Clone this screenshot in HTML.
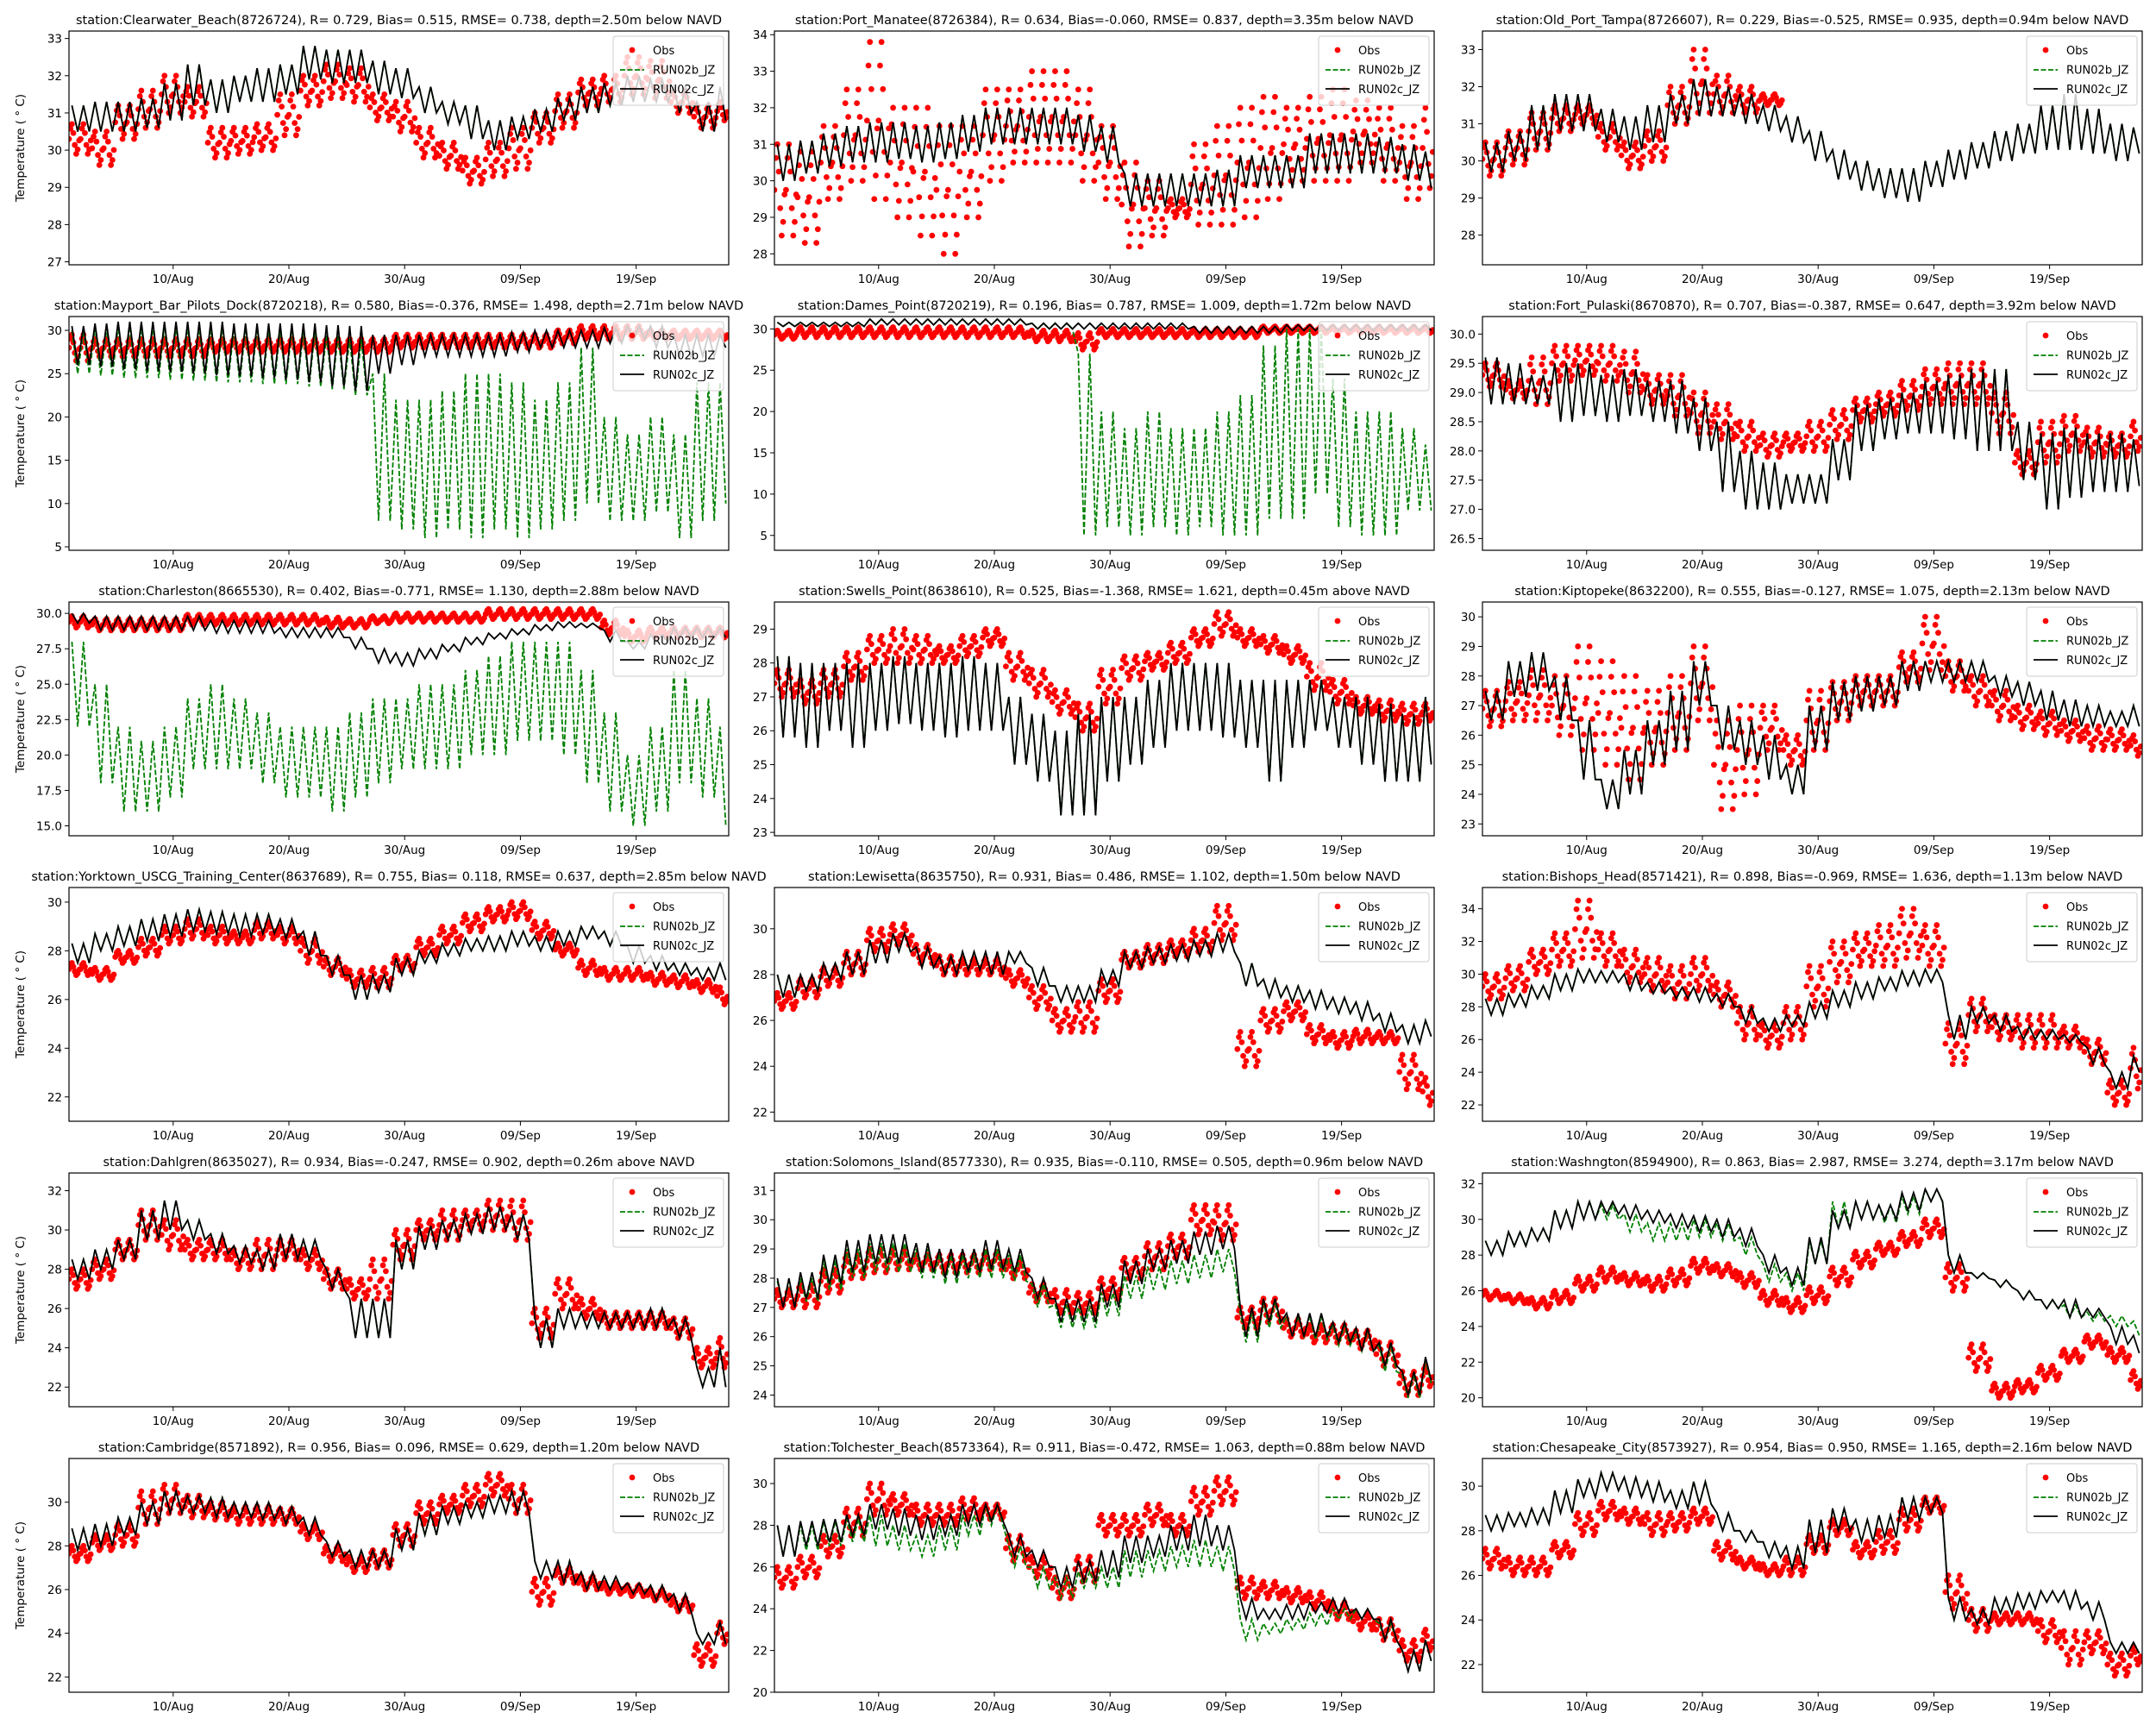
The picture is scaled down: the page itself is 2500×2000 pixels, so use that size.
<!DOCTYPE html>
<html><head><meta charset="utf-8"><style>
html,body{margin:0;padding:0;background:#fff;}
svg{display:block;font-family:"DejaVu Sans","Liberation Sans",sans-serif;}
</style></head>
<body>
<svg id="fig" width="2500" height="2000" viewBox="0 0 2500 2000" xmlns="http://www.w3.org/2000/svg"></svg>
<script>
// ---------- data (daily min / max, one entry per 2 days starting 1 Aug) ----------
const titles = [
"station:Clearwater_Beach(8726724), R= 0.729, Bias= 0.515, RMSE= 0.738, depth=2.50m below NAVD",
"station:Port_Manatee(8726384), R= 0.634, Bias=-0.060, RMSE= 0.837, depth=3.35m below NAVD",
"station:Old_Port_Tampa(8726607), R= 0.229, Bias=-0.525, RMSE= 0.935, depth=0.94m below NAVD",
"station:Mayport_Bar_Pilots_Dock(8720218), R= 0.580, Bias=-0.376, RMSE= 1.498, depth=2.71m below NAVD",
"station:Dames_Point(8720219), R= 0.196, Bias= 0.787, RMSE= 1.009, depth=1.72m below NAVD",
"station:Fort_Pulaski(8670870), R= 0.707, Bias=-0.387, RMSE= 0.647, depth=3.92m below NAVD",
"station:Charleston(8665530), R= 0.402, Bias=-0.771, RMSE= 1.130, depth=2.88m below NAVD",
"station:Swells_Point(8638610), R= 0.525, Bias=-1.368, RMSE= 1.621, depth=0.45m above NAVD",
"station:Kiptopeke(8632200), R= 0.555, Bias=-0.127, RMSE= 1.075, depth=2.13m below NAVD",
"station:Yorktown_USCG_Training_Center(8637689), R= 0.755, Bias= 0.118, RMSE= 0.637, depth=2.85m below NAVD",
"station:Lewisetta(8635750), R= 0.931, Bias= 0.486, RMSE= 1.102, depth=1.50m below NAVD",
"station:Bishops_Head(8571421), R= 0.898, Bias=-0.969, RMSE= 1.636, depth=1.13m below NAVD",
"station:Dahlgren(8635027), R= 0.934, Bias=-0.247, RMSE= 0.902, depth=0.26m above NAVD",
"station:Solomons_Island(8577330), R= 0.935, Bias=-0.110, RMSE= 0.505, depth=0.96m below NAVD",
"station:Washngton(8594900), R= 0.863, Bias= 2.987, RMSE= 3.274, depth=3.17m below NAVD",
"station:Cambridge(8571892), R= 0.956, Bias= 0.096, RMSE= 0.629, depth=1.20m below NAVD",
"station:Tolchester_Beach(8573364), R= 0.911, Bias=-0.472, RMSE= 1.063, depth=0.88m below NAVD",
"station:Chesapeake_City(8573927), R= 0.954, Bias= 0.950, RMSE= 1.165, depth=2.16m below NAVD"];
const yMin = [26.92,27.7,27.2,4.6,3.2,26.3,14.3,22.9,22.6,21.0,21.6,21.0,21.0,23.6,19.5,21.3,20.0,20.76];
const yMax = [33.2,34.1,33.5,31.6,31.5,30.3,30.8,29.8,30.5,30.6,31.8,35.3,32.9,31.6,32.6,32.0,31.2,31.24];
const yTicks = [
["27","28","29","30","31","32","33"],["28","29","30","31","32","33","34"],["28","29","30","31","32","33"],
["5","10","15","20","25","30"],["5","10","15","20","25","30"],["26.5","27.0","27.5","28.0","28.5","29.0","29.5","30.0"],
["15.0","17.5","20.0","22.5","25.0","27.5","30.0"],["23","24","25","26","27","28","29"],["23","24","25","26","27","28","29","30"],
["22","24","26","28","30"],["22","24","26","28","30"],["22","24","26","28","30","32","34"],
["22","24","26","28","30","32"],["24","25","26","27","28","29","30","31"],["20","22","24","26","28","30","32"],
["22","24","26","28","30"],["20","22","24","26","28","30"],["22","24","26","28","30"]];
const xTickDays = [9,19,29,39,49];
const xTickLabels = ["10/Aug","20/Aug","30/Aug","09/Sep","19/Sep"];

const obsLo_1=[29.9,29.6,30.3,30.6,31.0,30.9,29.8,29.9,30.0,30.4,31.2,31.4,31.3,30.8,30.5,29.8,29.5,29.1,29.3,29.5,30.2,30.6,31.2,31.3,31.5,31.4,31.0,30.6,30.8];
const obsHi_1=[30.7,30.5,31.2,31.6,32.0,31.7,30.6,30.6,30.7,31.5,32.0,32.3,32.2,31.5,31.3,30.6,30.2,29.8,30.2,30.6,31.0,31.5,31.9,32.0,32.5,32.4,31.6,31.2,31.3];
const runcLo_1=[30.5,30.5,30.5,30.6,30.8,31.2,31.0,31.3,31.3,31.5,31.9,31.8,31.8,31.5,31.4,31.0,30.7,30.3,30.0,30.3,30.5,30.8,31.0,31.2,31.3,31.3,31.0,30.5,30.8];
const runcHi_1=[31.2,31.3,31.3,31.4,31.8,32.3,31.9,32.0,32.2,32.3,32.8,32.7,32.7,32.4,32.2,31.7,31.3,31.2,30.8,30.9,31.1,31.4,31.7,31.8,32.0,31.9,31.7,31.3,31.7];

const obsLo_2=[28.5,28.3,29.5,30.0,29.5,29.0,28.5,28.0,29.0,30.0,30.5,30.5,30.5,30.0,29.5,28.2,28.5,29.0,28.8,28.8,29.0,29.5,30.0,30.0,30.0,30.5,30.0,29.5,29.8];
const obsHi_2=[31.0,30.8,31.5,32.5,33.8,32.0,32.0,31.5,31.5,32.5,32.5,33.0,33.0,32.5,31.5,30.5,30.0,29.5,31.0,31.5,32.0,32.3,32.0,32.3,32.5,32.2,32.0,31.5,32.0];
const runcLo_2=[30.0,30.2,30.4,30.5,30.5,30.6,30.5,30.6,30.8,31.0,31.0,31.0,31.0,30.8,30.5,29.3,29.3,29.3,29.3,29.3,29.8,29.8,29.8,30.2,30.2,30.2,30.2,30.0,29.8];
const runcHi_2=[31.0,31.1,31.3,31.5,31.6,31.6,31.5,31.6,31.8,32.0,32.0,32.0,32.0,31.8,31.5,30.2,30.2,30.2,30.2,30.3,30.7,30.7,30.7,31.3,31.3,31.3,31.2,31.0,30.8];

const obsLo_3=[29.6,29.9,30.3,30.8,31.0,30.3,29.8,30.0,31.0,31.3,31.3,31.3,31.5,null,null,null,null,null,null,null,null,null,null,null,null,null,null,null,null];
const obsHi_3=[30.5,30.8,31.3,31.5,31.5,31.0,30.5,30.8,32.0,33.0,32.3,32.0,31.8,null,null,null,null,null,null,null,null,null,null,null,null,null,null,null,null];
const runcLo_3=[29.7,30.0,30.3,30.8,30.8,30.5,30.3,30.5,31.0,31.2,31.2,31.0,30.8,30.5,30.0,29.5,29.2,29.0,28.9,29.3,29.5,29.8,30.0,30.2,30.3,30.3,30.2,30.0,30.2];
const runcHi_3=[30.5,30.8,31.5,31.8,31.8,31.4,31.2,31.5,31.8,32.2,32.0,31.8,31.5,31.2,30.8,30.3,30.0,29.8,29.8,30.0,30.3,30.5,30.8,31.0,31.5,31.8,31.4,31.0,30.9];

const obsLo_4=[26.5,27,27,27,27,27,27.5,27.5,27.5,27.5,27.5,27.5,27.5,27.5,28,28,28,28,28,28,28,28.5,29,29,29,29,29,29,29];
const obsHi_4=[29.5,29,29,29,29,29,29,29,29,29,29,29,29,29,29.5,29.5,29.5,29.5,29.5,29.5,29.5,30,30.5,30.5,30.5,30,30,30,30];
const runbLo_4=[25,24.8,24.5,24.5,24.3,24.2,24,24,23.8,23.8,23.5,23.2,22.5,8,7,6,7,6,7,6,7,8,10,8,8,9,6,8,10];
const runbHi_4=[30,30.3,30.5,30.5,30.5,30.5,30.5,30.3,30.3,30.2,30,29.5,29,25,22,22,23,25,25,24,22,24,28,20,18,20,18,24,24];
const runcLo_4=[26,25.8,25.5,25.3,25.2,25,24.8,24.7,24.5,24.3,24,23.5,23,25,26,27,27,27,27,27.5,28,28,28,28.5,29,28,27,27,28];
const runcHi_4=[30.5,30.8,31,31,31,31,31,30.8,30.8,30.8,30.8,30.6,30.5,29.5,29.5,29.5,29.5,29.5,29.5,29.8,30,30,30,30.3,30.5,30.5,29.5,29.5,29.5];

const obsLo_5=[28.8,29,29,29,29,29,29,29,29,29,29,28.5,28.5,27.5,29,29,29,29,29,29,29,29.5,29.5,29.5,29.5,29.5,29.5,29.5,29.5];
const obsHi_5=[29.8,30.2,30.2,30.2,30.2,30.2,30.2,30.2,30.2,30.2,30.2,29.8,29.8,29.5,30,30,30,30,30,30,30,30.3,30.3,30.3,30.3,30.3,30.3,30.3,30.3];
const runbLo_5=[30.3,30.3,30.3,30.3,30.5,30.5,30.5,30.5,30.5,30.5,30.5,30,30,5,6,5,6,5,6,5,5,7,7,10,6,5,5,8,8];
const runbHi_5=[30.8,30.8,30.8,30.8,31.2,31.2,31.2,31.2,31.2,31.2,31.2,30.7,30.7,27,20,18,20,18,18,20,22,28,30,30,24,20,20,18,16];
const runcLo_5=[30.3,30.3,30.3,30.3,30.5,30.5,30.5,30.5,30.5,30.5,30.5,30,30,30,30,30,30,30,29.5,29.5,29.5,29.5,29.8,29.8,29.8,29.8,29.8,29.8,29.8];
const runcHi_5=[30.8,30.8,30.8,30.8,31.2,31.2,31.2,31.2,31.2,31.2,31.2,30.7,30.7,30.7,30.7,30.7,30.7,30.7,30.3,30.3,30.3,30.3,30.5,30.5,30.5,30.5,30.5,30.5,30.5];

const obsLo_6=[29.1,28.9,28.8,29.2,29.3,29.2,29.0,28.8,28.6,28.3,28.2,28.0,27.9,28.0,28.0,28.2,28.5,28.6,28.7,28.8,28.8,28.8,28.3,27.6,27.8,28.0,27.9,27.9,28.0];
const obsHi_6=[29.5,29.2,29.6,29.8,29.8,29.8,29.7,29.3,29.3,29.0,28.8,28.5,28.3,28.3,28.5,28.7,28.9,29.0,29.2,29.4,29.5,29.5,29.0,28.0,28.5,28.6,28.4,28.3,28.5];
const runcLo_6=[28.8,28.8,28.8,28.5,28.6,28.5,28.6,28.5,28.3,28.0,27.3,27.0,27.0,27.1,27.1,27.5,28.0,28.2,28.3,28.3,28.2,28.0,28.0,27.5,27.0,27.2,27.3,27.3,27.4];
const runcHi_6=[29.6,29.5,29.3,29.5,29.5,29.3,29.4,29.2,29.2,28.9,28.5,28.0,27.8,27.6,27.6,28.2,28.8,28.9,29.0,29.2,29.3,29.4,29.4,28.5,28.3,28.4,28.3,28.3,28.2];

const obsLo_7=[29.0,28.8,28.8,28.8,28.8,29.2,29.2,29.2,29.2,29.2,29.2,29.0,29.0,29.3,29.4,29.4,29.4,29.4,29.6,29.6,29.6,29.6,29.6,28.5,28.0,28.3,28.3,28.3,28.3];
const obsHi_7=[29.8,29.6,29.6,29.6,29.6,29.9,29.9,29.9,29.9,29.9,29.9,29.7,29.6,29.8,30.0,30.0,30.0,30.0,30.3,30.3,30.3,30.3,30.3,29.5,28.8,29.0,29.0,29.0,29.0];
const runbLo_7=[22,18,16,16,17,19,19,19,18,17,17,16,17,18,19,19,19,20,20,21,21,20,18,16,15,16,18,17,15];
const runbHi_7=[28,25,22,21,22,24,25,24,23,22,22,22,23,24,24,25,25,26,27,28,28,28,26,23,20,22,26,24,22];
const runcLo_7=[29.3,28.8,28.8,28.8,28.8,28.8,28.6,28.6,28.6,28.3,28.3,28.3,27.5,26.5,26.3,26.8,27.3,27.8,28.2,28.5,28.8,29.0,29.0,28.0,27.5,28.0,28.3,28.3,28.3];
const runcHi_7=[30.0,29.8,29.8,29.8,29.8,29.8,29.5,29.5,29.5,29.0,29.0,29.0,28.3,27.5,27.2,27.5,27.8,28.3,28.6,28.9,29.2,29.4,29.3,28.8,28.0,28.5,29.0,29.0,29.0];

const obsLo_8=[27.0,26.8,27.0,27.5,28.0,28.0,28.0,28.0,28.2,28.5,27.5,27.0,26.5,26.0,26.8,27.5,27.8,28.0,28.5,28.8,28.5,28.3,28.0,27.2,26.8,26.5,26.3,26.2,26.3];
const obsHi_8=[27.8,27.5,27.8,28.3,28.8,29.0,28.8,28.5,28.8,29.0,28.3,27.8,27.2,26.8,27.8,28.2,28.3,28.6,29.0,29.5,29.0,28.8,28.5,28.0,27.5,27.0,26.9,26.8,26.8];
const runcLo_8=[25.8,25.5,26.0,25.5,26.0,26.2,26.0,25.8,26.0,26.0,25.0,24.5,23.5,23.5,24.5,25.0,25.5,26.0,26.0,25.8,25.5,24.5,25.5,26.0,25.5,25.0,24.5,24.5,25.0];
const runcHi_8=[28.2,28.0,28.0,28.0,28.0,28.2,28.0,28.0,28.2,28.0,27.0,26.5,26.0,26.5,27.0,27.0,27.5,28.0,28.0,28.0,27.5,27.5,27.5,27.5,27.0,27.0,26.8,26.5,27.0];

const obsLo_9=[26.3,26.5,26.5,26.0,25.5,25.0,24.5,25.0,25.5,26.5,23.5,24.0,25.5,25.0,25.5,26.5,27.0,27.0,27.8,28.2,27.5,27.0,26.5,26.2,26.0,25.8,25.5,25.5,25.3];
const obsHi_9=[27.5,27.8,28.2,28.0,29.0,28.5,28.0,27.5,28.0,29.0,26.5,27.0,27.0,26.0,27.5,27.8,28.0,28.0,28.8,30.0,28.5,28.0,27.5,27.0,26.8,26.5,26.3,26.2,26.0];
const runcLo_9=[26.5,27.3,27.5,26.5,24.5,23.5,24.0,25.0,25.5,27.0,25.5,25.0,24.5,24.0,25.5,26.5,26.8,27.0,27.5,27.8,27.8,27.8,27.3,27.0,26.5,26.3,26.3,26.3,26.3];
const runcHi_9=[27.5,28.5,28.8,28.0,26.5,24.5,25.5,26.5,27.5,28.5,27.0,26.5,26.0,25.0,27.0,27.8,28.0,28.0,28.5,28.5,28.5,28.5,28.0,27.8,27.5,27.2,27.0,26.8,27.0];

const obsLo_10=[27.0,26.8,27.5,27.8,28.3,28.5,28.3,28.3,28.5,28.3,27.5,27.0,26.5,26.5,27.2,27.8,28.3,28.8,29.2,29.3,28.5,27.8,27.0,26.8,26.8,26.6,26.5,26.3,25.8];
const obsHi_10=[27.5,27.3,28.0,28.5,29.0,29.3,29.0,28.8,29.2,29.0,28.5,27.7,27.2,27.3,27.8,28.5,29.0,29.5,29.8,30.0,29.2,28.3,27.6,27.3,27.3,27.1,27.0,26.8,26.5];
const runcLo_10=[27.5,28.0,28.2,28.4,28.6,28.8,28.7,28.6,28.7,28.5,27.8,27.0,26.0,26.3,27.0,27.5,27.8,28.0,28.0,28.2,28.0,28.2,28.5,28.2,27.5,27.2,27.0,26.8,26.8];
const runcHi_10=[28.3,28.7,29.0,29.3,29.5,29.7,29.6,29.5,29.5,29.3,28.8,27.8,27.0,27.0,27.7,28.0,28.3,28.5,28.6,28.8,28.6,28.8,29.0,28.8,28.2,27.8,27.5,27.3,27.5];

const obsLo_11=[26.5,27.0,27.5,28.0,29.0,29.3,28.5,28.0,28.0,28.0,27.5,26.5,25.5,25.5,26.8,28.3,28.5,28.8,29.0,29.5,24.0,25.5,26.0,25.0,24.8,25.0,25.0,23.0,22.3];
const obsHi_11=[27.2,27.8,28.3,29.0,30.0,30.2,29.3,28.8,28.7,28.7,28.2,27.5,26.5,26.8,27.8,29.0,29.3,29.5,30.0,31.0,25.5,26.5,26.8,25.8,25.5,25.6,25.5,24.5,23.5];
const runcLo_11=[27.0,27.3,27.8,28.0,28.5,29.0,28.3,28.0,28.2,28.0,28.5,27.5,26.8,26.8,27.5,28.3,28.5,28.6,28.8,29.0,27.5,27.0,26.8,26.5,26.3,26.0,25.5,25.0,25.3];
const runcHi_11=[28.0,28.0,28.5,29.0,29.5,29.8,29.2,28.8,29.0,29.0,29.0,28.3,27.5,27.5,28.2,29.0,29.2,29.3,29.5,29.8,28.5,27.8,27.5,27.3,27.0,26.8,26.3,25.8,26.0];

const obsLo_12=[28.5,29.0,30.0,30.5,31.0,30.5,29.5,29.0,28.5,29.0,28.0,26.0,25.5,26.0,28.0,29.5,30.5,30.5,31.0,30.5,24.5,26.5,26.0,25.5,25.5,25.5,24.5,22.0,23.0];
const obsHi_12=[30.0,30.5,31.5,32.5,34.5,32.5,31.5,31.0,30.5,31.0,29.5,28.0,27.0,28.0,30.5,32.0,32.5,33.0,34.0,33.0,27.0,28.5,27.5,27.5,27.5,26.8,26.0,23.5,25.5];
const runcLo_12=[27.5,28.0,28.5,29.0,29.5,29.5,29.0,28.8,28.5,28.3,28.0,27.0,26.5,26.8,27.3,28.0,28.5,29.0,29.3,29.5,26.0,27.0,26.5,26.0,26.0,25.8,24.5,23.0,24.0];
const runcHi_12=[28.5,28.8,29.3,30.0,30.3,30.2,30.0,29.5,29.2,29.2,28.8,28.0,27.3,27.5,28.3,29.0,29.5,29.8,30.2,30.3,27.5,28.0,27.5,26.8,26.6,26.3,25.5,24.0,25.0];

const obsLo_13=[27.0,27.5,28.5,29.5,29.0,28.5,28.5,28.0,28.0,28.5,28.0,27.0,26.5,26.5,28.5,29.5,29.5,30.0,30.0,29.5,24.5,26.0,25.5,25.0,25.0,25.0,24.5,23.0,23.0];
const obsHi_13=[28.0,28.5,29.5,31.0,30.5,29.5,29.5,29.0,29.5,29.5,29.0,28.0,27.5,28.5,30.0,30.5,31.0,31.0,31.5,31.5,26.0,27.5,26.5,25.8,25.8,25.8,25.5,24.0,24.5];
const runcLo_13=[27.5,28.0,28.5,29.5,30.0,29.5,28.8,28.3,28.0,28.5,28.5,27.0,24.5,24.5,28.0,29.0,29.5,29.8,30.0,29.5,24.0,25.0,25.0,25.0,25.0,25.0,24.5,22.0,22.0];
const runcHi_13=[28.5,29.0,29.5,31.0,31.5,30.5,29.8,29.2,29.0,29.8,29.5,28.0,26.5,26.5,29.5,30.2,30.5,30.8,31.2,30.8,25.5,26.0,25.8,25.8,25.8,26.0,25.5,23.0,24.0];

const obsLo_14=[27.0,27.0,27.5,28.0,28.2,28.3,28.3,28.2,28.2,28.3,28.0,27.2,26.8,26.8,27.3,28.0,28.3,28.7,29.5,29.3,26.3,26.5,26.0,25.8,25.8,25.6,25.0,24.0,24.3];
const obsHi_14=[27.6,27.8,28.3,28.8,29.0,29.0,28.8,28.8,28.8,28.9,28.6,27.8,27.6,27.5,28.0,28.7,29.2,29.5,30.5,30.5,27.0,27.3,26.6,26.4,26.4,26.2,25.8,24.8,25.0];
const runcLo_14=[27.0,27.3,27.8,28.2,28.5,28.5,28.2,28.0,28.2,28.3,28.2,27.3,26.5,26.5,27.0,27.8,28.3,28.5,28.8,29.0,26.0,26.5,26.0,26.0,25.8,25.5,25.0,24.0,24.5];
const runcHi_14=[28.0,28.2,28.8,29.3,29.5,29.5,29.2,29.0,29.0,29.3,29.0,28.0,27.3,27.3,27.8,28.6,29.0,29.3,29.6,29.8,27.0,27.3,26.8,26.8,26.5,26.3,25.8,24.8,25.3];
const runbLo_14=[27.0,27.2,27.6,28.0,28.2,28.2,28.0,27.8,28.0,28.0,27.9,27.0,26.3,26.3,26.7,27.3,27.6,27.8,28.0,28.2,25.8,26.3,26.0,25.9,25.7,25.5,24.8,23.9,24.4];
const runbHi_14=[27.9,28.0,28.6,29.0,29.2,29.2,29.0,28.8,28.8,29.0,28.8,27.8,27.1,27.0,27.5,28.1,28.4,28.6,28.8,29.0,26.8,27.2,26.7,26.7,26.4,26.2,25.7,24.7,25.2];

const obsLo_15=[25.5,25.3,25.0,25.3,26.0,26.5,26.3,26.0,26.3,27.0,26.8,26.2,25.2,24.8,25.3,26.3,27.3,28.0,28.5,29.0,26.0,21.5,20.0,20.3,21.0,22.0,22.8,22.0,20.5];
const obsHi_15=[26.0,25.8,25.6,26.0,26.8,27.3,27.0,26.8,27.2,27.8,27.5,27.0,26.0,25.6,26.2,27.3,28.2,28.7,29.3,30.0,27.5,23.0,20.8,21.0,21.8,22.7,23.5,22.8,21.5];
const runbLo_15=[28.0,28.5,28.8,29.5,30.0,30.0,29.3,28.8,28.8,29.0,28.8,28.0,26.5,26.0,27.5,29.5,30.0,29.8,30.3,31.0,27.0,26.7,26.2,25.5,25.0,24.5,24.3,24.0,23.5];
const runbHi_15=[28.8,29.3,29.5,30.5,31.0,30.8,30.3,29.8,29.8,30.0,29.8,29.0,27.5,27.0,28.8,31.0,31.0,30.8,31.3,31.7,28.0,27.0,26.6,26.0,25.5,25.2,24.8,24.6,24.3];
const runcLo_15=[28.0,28.5,28.8,29.5,30.0,30.3,30.0,29.8,29.5,29.3,29.0,28.5,27.0,26.3,27.5,29.5,30.0,30.0,30.5,31.0,27.0,26.7,26.2,25.5,25.0,24.5,24.5,23.0,22.5];
const runcHi_15=[28.8,29.3,29.5,30.5,31.0,31.0,30.8,30.5,30.3,30.2,30.0,29.5,28.0,27.3,29.0,30.5,31.0,30.8,31.5,31.7,28.0,27.0,26.6,26.0,25.5,25.5,25.0,24.0,23.5];

const obsLo_16=[27.3,27.8,28.0,29.0,29.5,29.3,29.2,29.0,29.0,29.0,28.3,27.3,26.8,27.0,28.0,29.0,29.5,29.8,30.3,29.5,25.3,26.3,26.0,25.8,25.7,25.5,25.0,22.5,23.5];
const obsHi_16=[28.0,28.5,29.0,30.5,30.8,30.3,30.0,29.8,29.8,29.7,29.0,28.0,27.5,27.8,29.0,30.0,30.3,30.8,31.3,30.8,26.5,27.0,26.6,26.3,26.2,26.0,25.6,23.5,24.5];
const runcLo_16=[27.8,28.0,28.5,29.0,29.5,29.5,29.3,29.3,29.2,29.0,28.5,27.5,27.0,27.0,27.8,28.5,29.0,29.3,29.5,29.5,26.5,26.3,26.0,26.0,25.8,25.5,25.0,23.5,23.5];
const runcHi_16=[28.8,29.0,29.3,30.0,30.5,30.3,30.2,30.0,30.0,29.8,29.3,28.2,27.8,27.8,28.8,29.5,29.8,30.0,30.3,30.5,27.3,27.3,26.8,26.6,26.3,26.2,25.8,24.0,24.5];

const obsLo_17=[25.0,25.5,26.5,27.5,28.5,28.5,28.0,28.0,28.3,28.3,26.3,25.5,24.5,25.3,27.5,27.5,28.0,27.5,28.5,29.0,24.5,24.5,24.3,24.0,23.5,23.0,22.5,21.5,22.0];
const obsHi_17=[26.0,26.5,27.5,28.8,30.0,29.5,29.0,29.0,29.3,29.0,27.5,26.5,25.5,26.5,28.5,28.5,29.0,28.5,29.8,30.3,25.5,25.3,25.0,24.8,24.3,23.8,23.5,22.5,23.0];
const runbLo_17=[26.5,26.8,27.0,27.2,27.0,26.8,26.5,26.8,27.5,28.0,26.0,25.0,24.5,25.0,25.0,25.5,25.8,26.0,26.0,25.8,22.5,22.8,23.0,23.2,23.5,23.5,22.5,21.0,21.5];
const runbHi_17=[28.0,28.0,28.2,28.3,28.5,28.0,27.5,28.0,28.5,29.0,27.0,26.0,25.5,25.8,26.0,26.8,26.8,27.0,27.3,27.0,23.5,23.3,23.5,23.8,24.0,24.0,23.3,22.0,22.5];
const runcLo_17=[26.5,27.0,27.2,27.5,27.8,27.5,27.3,27.5,28.0,28.2,26.5,26.0,25.0,25.3,25.5,26.2,26.5,26.8,27.0,26.8,23.5,23.5,23.5,23.8,23.8,23.5,22.5,21.0,21.5];
const runcHi_17=[28.0,28.2,28.3,28.5,29.0,28.8,28.5,28.5,29.0,29.0,27.5,26.8,26.0,26.3,26.8,27.5,27.5,28.0,28.5,28.0,24.5,24.0,24.2,24.3,24.5,24.0,23.5,22.0,22.5];

const obsLo_18=[26.3,26.0,26.0,26.8,27.8,28.5,28.3,27.8,28.0,28.3,26.7,26.3,26.0,26.0,27.0,27.8,26.8,27.0,28.0,28.8,24.5,23.5,23.8,23.8,23.0,22.0,22.5,21.5,22.0];
const obsHi_18=[27.2,26.8,26.8,27.5,28.8,29.3,29.0,28.8,28.8,29.0,27.5,26.8,26.5,26.8,27.8,28.5,27.5,28.0,29.0,29.5,26.0,24.5,24.3,24.3,24.0,23.5,23.5,22.5,22.8];
const runcLo_18=[28.0,28.2,28.3,28.8,29.5,29.8,29.5,29.3,29.0,29.2,28.0,27.5,26.8,26.3,27.0,28.0,27.5,27.7,28.5,28.8,24.0,23.8,24.3,24.5,24.8,24.5,24.0,22.5,22.5];
const runcHi_18=[28.7,28.8,29.0,29.8,30.3,30.6,30.4,30.2,29.8,30.2,28.8,28.0,27.5,27.3,28.5,29.0,28.5,28.7,29.5,29.5,25.0,24.5,25.0,25.2,25.3,25.3,24.8,23.0,23.0];

const obsLo=[obsLo_1,obsLo_2,obsLo_3,obsLo_4,obsLo_5,obsLo_6,obsLo_7,obsLo_8,obsLo_9,obsLo_10,obsLo_11,obsLo_12,obsLo_13,obsLo_14,obsLo_15,obsLo_16,obsLo_17,obsLo_18];
const obsHi=[obsHi_1,obsHi_2,obsHi_3,obsHi_4,obsHi_5,obsHi_6,obsHi_7,obsHi_8,obsHi_9,obsHi_10,obsHi_11,obsHi_12,obsHi_13,obsHi_14,obsHi_15,obsHi_16,obsHi_17,obsHi_18];
const runcLo=[runcLo_1,runcLo_2,runcLo_3,runcLo_4,runcLo_5,runcLo_6,runcLo_7,runcLo_8,runcLo_9,runcLo_10,runcLo_11,runcLo_12,runcLo_13,runcLo_14,runcLo_15,runcLo_16,runcLo_17,runcLo_18];
const runcHi=[runcHi_1,runcHi_2,runcHi_3,runcHi_4,runcHi_5,runcHi_6,runcHi_7,runcHi_8,runcHi_9,runcHi_10,runcHi_11,runcHi_12,runcHi_13,runcHi_14,runcHi_15,runcHi_16,runcHi_17,runcHi_18];
const runbLo=[runcLo_1,runcLo_2,runcLo_3,runbLo_4,runbLo_5,runcLo_6,runbLo_7,runcLo_8,runcLo_9,runcLo_10,runcLo_11,runcLo_12,runcLo_13,runbLo_14,runbLo_15,runcLo_16,runbLo_17,runcLo_18];
const runbHi=[runcHi_1,runcHi_2,runcHi_3,runbHi_4,runbHi_5,runcHi_6,runbHi_7,runcHi_8,runcHi_9,runcHi_10,runcHi_11,runcHi_12,runcHi_13,runbHi_14,runbHi_15,runcHi_16,runbHi_17,runcHi_18];

// ---------- layout ----------
const NS="http://www.w3.org/2000/svg";
const svg=document.getElementById('fig');
const colLeft=[80,898,1719], AXW=765, AXH=271, ROW0=36, ROWSTEP=331, NDAYS=57;
const dotPattern=[0.5,0.85,1.0,0.7,0.3,0.0,0.15,0.45];
function mk(tag,attrs,parent){const e=document.createElementNS(NS,tag);for(const k in attrs)e.setAttribute(k,attrs[k]);(parent||svg).appendChild(e);return e;}

for(let p=0;p<18;p++){
  const col=p%3,row=Math.floor(p/3);
  const L=colLeft[col],T=ROW0+row*ROWSTEP,R=L+AXW,B=T+AXH;
  const y0=yMin[p],y1=yMax[p];
  const xs=t=>L+t/NDAYS*AXW;
  const ys=v=>B-(v-y0)/(y1-y0)*AXH;
  const g=mk('g',{});
  
  
  const cp=mk('clipPath',{id:'cp'+p},g);
  mk('rect',{x:L,y:T,width:AXW,height:AXH},cp);
  const tt=mk('text',{x:L+AXW/2,y:T-8,'text-anchor':'middle','font-size':14.5,fill:'#000'},g);
  tt.textContent=titles[p];
  
  
  yTicks[p].forEach(lbl=>{
    const yy=ys(parseFloat(lbl));
    mk('line',{x1:L-5,x2:L,y1:yy,y2:yy,stroke:'#000','stroke-width':1},g);
    const t=mk('text',{x:L-8,y:yy+5,'text-anchor':'end','font-size':13.5,fill:'#000'},g);
    t.textContent=lbl;
    
    
  });
  xTickDays.forEach((d,i)=>{
    const xx=xs(d);
    mk('line',{x1:xx,x2:xx,y1:B,y2:B+5,stroke:'#000','stroke-width':1},g);
    const t=mk('text',{x:xx,y:B+21,'text-anchor':'middle','font-size':13.5,fill:'#000'},g);
    t.textContent=xTickLabels[i];
    
    
  });
  if(col===0){
    const yl=mk('text',{x:0,y:0,'text-anchor':'middle','font-size':13.5,fill:'#000',transform:`translate(${L-52},${T+AXH/2}) rotate(-90)`},g);
    yl.textContent='Temperature ( \u00B0 C)';
    
    
  }
  const plot=mk('g',{'clip-path':`url(#cp${p})`},g);
  const og=mk('g',{fill:'#ff0000'},plot);
  
  
  for(let d=0;d<NDAYS;d++){
    const e=Math.floor(d/2),lo=obsLo[p][e],hi=obsHi[p][e];
    if(lo===null||hi===null)continue;
    dotPattern.forEach((f,k)=>{
      mk('circle',{cx:xs(d+k/dotPattern.length),cy:ys(lo+(hi-lo)*f),r:3.4},og);
    });
  }
  function modelPath(lo,hi){
    let pts=[];
    for(let d=0;d<NDAYS;d++){const e=Math.floor(d/2);pts.push([xs(d+0.25),ys(hi[e])]);pts.push([xs(d+0.75),ys(lo[e])]);}
    return 'M'+pts.map(q=>q[0].toFixed(1)+','+q[1].toFixed(1)).join('L');
  }
  const pb=mk('path',{d:modelPath(runbLo[p],runbHi[p]),fill:'none',stroke:'#008000','stroke-width':1.8,'stroke-dasharray':'6,2.5'},plot);
  
  
  const pc=mk('path',{d:modelPath(runcLo[p],runcHi[p]),fill:'none',stroke:'#000','stroke-width':1.8},plot);
  
  
  const fr=mk('rect',{x:L,y:T,width:AXW,height:AXH,fill:'none',stroke:'#000','stroke-width':1.2},g);
  
  
  const lg=mk('g',{},g);
  
  
  const lx=R-134,ly=T+6;
  mk('rect',{x:lx,y:ly,width:128,height:80,rx:3,fill:'#fff','fill-opacity':0.8,stroke:'#ccc','stroke-width':1},lg);
  mk('circle',{cx:lx+22,cy:ly+16,r:3.4,fill:'#ff0000'},lg);
  mk('line',{x1:lx+8,x2:lx+36,y1:ly+39,y2:ly+39,stroke:'#008000','stroke-width':1.8,'stroke-dasharray':'6,2.5'},lg);
  mk('line',{x1:lx+8,x2:lx+36,y1:ly+61,y2:ly+61,stroke:'#000','stroke-width':1.8},lg);
  ['Obs','RUN02b_JZ','RUN02c_JZ'].forEach((s,i)=>{
    const t=mk('text',{x:lx+46,y:ly+21+i*22.5,'font-size':13,fill:'#000'},lg);
    t.textContent=s;
    
    
  });
}
</script>
</body></html>
